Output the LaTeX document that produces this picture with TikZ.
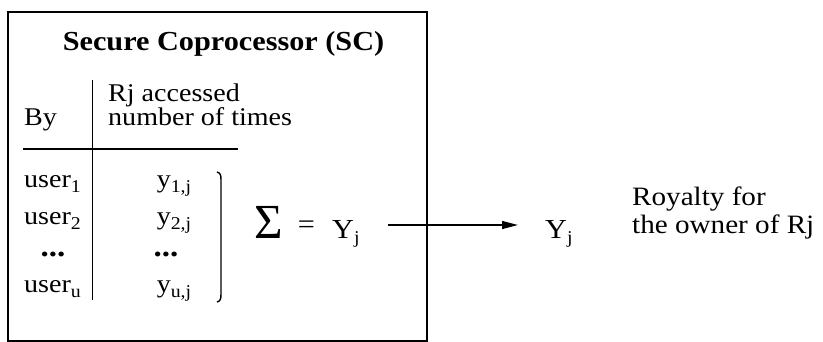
\documentclass[tikz,border=0pt]{standalone}
\usepackage{fontspec}
\setmainfont{Liberation Serif}[FakeStretch=1.1]
\newfontfamily\sigmafont{Liberation Serif}
\usetikzlibrary{arrows.meta}
\newcommand{\sbs}[1]{\raisebox{-5pt}{\fontsize{18}{18}\selectfont #1}}
\tikzset{
  txt/.style={inner sep=0pt, font=\fontsize{25.5}{25.5}\selectfont},
  rtxt/.style={inner sep=0pt, font=\fontsize{26.5}{26.5}\selectfont},
  big/.style={inner sep=0pt, font=\fontsize{27.5}{27.5}\selectfont},
  dots/.style={inner sep=0pt, font=\fontsize{30}{30}\selectfont\bfseries},
  ttl/.style={inner sep=0pt, font=\fontsize{27.5}{27.5}\selectfont\bfseries},
  rule/.style={line width=1.3pt},
  frame/.style={line width=2.2pt},
  arr/.style={line width=1.5pt, -{Triangle[length=16pt,width=8pt]}}
}
\begin{document}
\begin{tikzpicture}[x=1pt,y=-1pt]
\useasboundingbox (0,0) rectangle (823,341);
\fill[white] (0,0) rectangle (823,341);
% frame
\draw[frame] (8,12) rectangle (427,341.5);
\node[ttl, anchor=base] (title) at (223.5,50) {Secure Coprocessor (SC)};
% table
\draw[rule] (92.5,80) -- (92.5,300);
\draw[rule] (23,149) -- (238,149);
\node[txt, anchor=base west] (by) at (24,125) {By};
\node[txt, anchor=base west] (rj) at (108,101) {Rj accessed};
\node[txt, anchor=base west] (num) at (108,125) {number of times};
\node[txt, anchor=base west] (u1) at (24,187) {user\sbs{1}};
\node[txt, anchor=base west] (u2) at (24,224) {user\sbs{2}};
\node[dots, anchor=base] (ud) at (53,256) {...};
\node[txt, anchor=base west] (uu) at (24,292) {user\sbs{u}};
\node[txt, anchor=base] (y1) at (174,187) {y\sbs{1,j}};
\node[txt, anchor=base] (y2) at (174,224) {y\sbs{2,j}};
\node[dots, anchor=base] (yd) at (166,256) {...};
\node[txt, anchor=base] (yu) at (174,292) {y\sbs{u,j}};
% bracket
\draw[line width=1.4pt] (217,172) .. controls (220.5,173) and (221,175) .. (221,180)
  -- (221,294) .. controls (221,299) and (220.5,301) .. (217,302);
% sum
\node[inner sep=0pt, anchor=base west, font=\fontsize{49}{49}\sigmafont] (sig) at (254,238) {Σ};
\node[big, anchor=center] (eq) at (306.5,227) {=};
\node[big, anchor=base west] (Y1) at (332,238) {Y\sbs{j}};
\node[big, anchor=base west] (Y2) at (545,238) {Y\sbs{j}};
\coordinate (as) at (388,225);
\coordinate (ae) at (518,225);
\draw[arr] (as) -- (ae);
\node[rtxt, anchor=base west] (roy) at (632,205) {Royalty for};
\node[rtxt, anchor=base west] (own) at (632,233) {the owner of Rj};
\end{tikzpicture}
\end{document}
